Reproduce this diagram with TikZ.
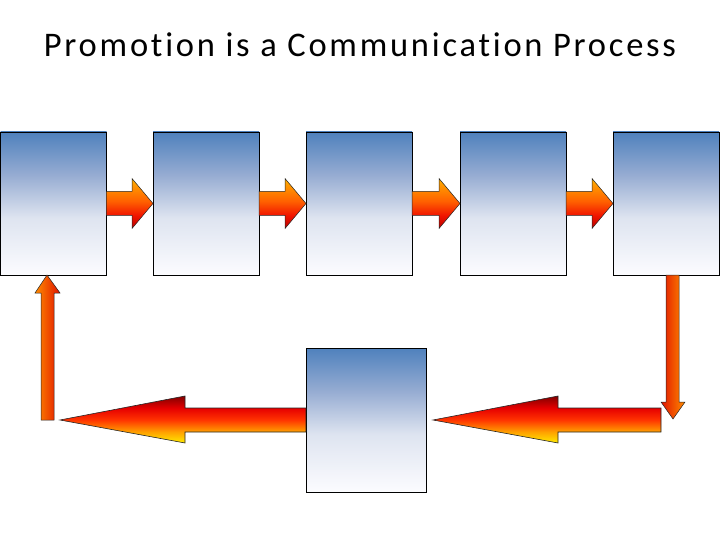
\documentclass[tikz,border=0pt]{standalone}
\usepackage{fontspec}
\setmainfont{Carlito}[Ligatures=NoCommon]
\newfontfamily\titlefont{Carlito}[Ligatures=NoCommon,LetterSpace=8]
\usetikzlibrary{calc}
\definecolor{boxA}{RGB}{79,129,189}
\definecolor{boxB}{RGB}{150,172,210}
\definecolor{boxC}{RGB}{222,228,240}
\definecolor{boxD}{RGB}{252,252,255}
\definecolor{arrY}{RGB}{255,175,0}
\definecolor{arrO}{RGB}{255,95,0}
\definecolor{arrR}{RGB}{240,20,0}
\definecolor{arrD}{RGB}{185,0,0}
\definecolor{bgY}{RGB}{255,235,0}
\definecolor{bgO}{RGB}{255,160,0}
\definecolor{bgR}{RGB}{255,50,0}
\definecolor{bgRR}{RGB}{230,0,0}
\definecolor{bgD}{RGB}{130,0,0}
\definecolor{vO}{RGB}{255,140,0}
\definecolor{vR}{RGB}{225,20,0}
\pgfdeclareverticalshading{boxsh}{100bp}{color(0bp)=(boxD); color(25bp)=(boxD); color(45bp)=(boxC); color(60bp)=(boxB); color(75bp)=(boxA); color(100bp)=(boxA)}
\pgfdeclareverticalshading{smallsh}{100bp}{color(0bp)=(arrD); color(25bp)=(arrD); color(38bp)=(arrR); color(52bp)=(arrO); color(75bp)=(arrY); color(100bp)=(arrY)}
\pgfdeclareverticalshading{bigsh}{100bp}{color(0bp)=(bgY); color(25bp)=(bgY); color(37bp)=(bgO); color(50bp)=(bgR); color(62bp)=(bgRR); color(75bp)=(bgD); color(100bp)=(bgD)}
\tikzset{
  box/.style={draw=black, line width=0.8pt, shading=boxsh,
    inner sep=0pt, outer sep=0pt, anchor=north west},
  smallarr/.style={draw=black!85, line width=0.5pt, shading=smallsh},
  bigarr/.style={draw=black!85, line width=0.6pt, shading=bigsh},
  uparr/.style={draw=black!85, line width=0.5pt, left color=vO, right color=vR},
  downarr/.style={draw=black!85, line width=0.5pt, left color=vR, right color=vO},
}
\begin{document}
\begin{tikzpicture}[x=1pt,y=1pt]
\useasboundingbox (0,0) rectangle (720,-540);
\node[font=\titlefont\fontsize{34.5}{40}\selectfont, anchor=base, inner sep=0pt] (title) at (360,-57) {Promotion is a Communication Process};
% top boxes
\node[box, minimum width=106pt, minimum height=143pt] (b1) at (0.5,-132) {};
\node[box, minimum width=106pt, minimum height=143pt] (b2) at (153,-132) {};
\node[box, minimum width=106pt, minimum height=143pt] (b3) at (306,-132) {};
\node[box, minimum width=106pt, minimum height=143pt] (b4) at (460,-132) {};
\node[box, minimum width=106pt, minimum height=143pt] (b5) at (613,-132) {};
% bottom box
\node[box, minimum width=120pt, minimum height=144pt] (b6) at (306,-348) {};
% small right arrows
\foreach \a/\b in {b1/b2,b2/b3,b3/b4,b4/b5}{
  \path[smallarr] ($(\a.east)+(0,12)$) -- ($(\b.west)+(-21,12)$) -- ($(\b.west)+(-21,25)$)
    -- (\b.west) -- ($(\b.west)+(-21,-25)$) -- ($(\b.west)+(-21,-12)$) -- ($(\a.east)+(0,-12)$) -- cycle;
}
% down arrow from b5
\coordinate (dtip) at (673,-419);
\path[downarr] (666,0 |- b5.south) -- (666,-402) -- (661,-402) -- (dtip) -- (685,-402) -- (679,-402) -- (679,0 |- b5.south) -- cycle;
% big left arrow right side
\coordinate (rtip) at (433,-420);
\path[bigarr] (661,-408) -- (558,-408) -- (558,-396) -- (rtip) -- (558,-443) -- (558,-432) -- (661,-432) -- cycle;
% big left arrow left side
\coordinate (ltip) at (60,-420);
\path[bigarr] (b6.west |- 0,-408) -- (185,-408) -- (185,-396) -- (ltip) -- (185,-443) -- (185,-432) -- (b6.west |- 0,-432) -- cycle;
% up arrow to b1
\path[uparr] (41,-420) -- (41,-293) -- (35,-293) -- (47,0 |- b1.south) -- (60,-293) -- (54,-293) -- (54,-420) -- cycle;
\end{tikzpicture}
\end{document}
